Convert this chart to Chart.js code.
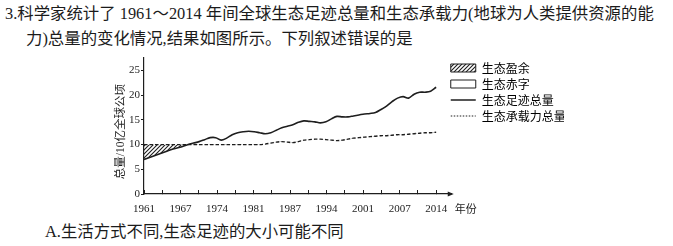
<!DOCTYPE html>
<html>
<head>
<meta charset="utf-8">
<script src="https://cdn.jsdelivr.net/npm/chart.js@4.4.1/dist/chart.umd.min.js"></script>
<style>
body { margin:0; background:#fff; width:673px; height:246px; overflow:hidden; position:relative;
       font-family:"Liberation Serif","Noto Sans CJK SC",serif; color:#1b1b1b; }
.q { position:absolute; font-size:16.4px; line-height:20px; white-space:nowrap; }
#l1 { left:5px; top:4px; }
#l2 { left:26px; top:29px; }
#l3 { left:45px; top:222px; }
#c { position:absolute; left:0; top:50px; }
</style>
</head>
<body>
<div class="q" id="l1">3.科学家统计了 1961～2014 年间全球生态足迹总量和生态承载力(地球为人类提供资源的能</div>
<div class="q" id="l2">力)总量的变化情况,结果如图所示。下列叙述错误的是</div>
<div class="q" id="l3">A.生活方式不同,生态足迹的大小可能不同</div>
<canvas id="c" width="673" height="174"></canvas>
<script>
var years = [1961,1962,1963,1964,1965,1966,1967,1968,1969,
    1970,1971,1972,1973,1974,1975,1976,1977,1978,1979,
    1980,1981,1982,1983,1984,1985,1986,1987,1988,1989,
    1990,1991,1992,1993,1994,1995,1996,1997,1998,1999,
    2000,2001,2002,2003,2004,2005,2006,2007,2008,2009,
    2010,2011,2012,2013,2014];
// 生态足迹总量
var footprint = [7.0,7.4,7.8,8.2,8.6,9.0,9.3,9.6,10.0,
    10.3,10.6,11.0,11.4,11.4,10.9,11.3,12.0,12.4,12.6,
    12.7,12.6,12.4,12.2,12.4,12.9,13.4,13.7,14.0,14.5,
    14.8,14.7,14.6,14.4,14.6,15.2,15.7,15.6,15.6,15.8,
    16.0,16.2,16.3,16.5,17.1,17.8,18.7,19.4,19.7,19.4,
    20.2,20.6,20.6,20.8,21.6];
// 生态承载力总量
var capacity = [10.0,10.0,10.0,10.0,10.0,10.0,10.0,10.0,10.0,
    10.0,10.0,10.0,10.0,10.0,10.0,10.0,10.0,10.0,10.0,
    10.0,10.0,10.0,10.1,10.3,10.5,10.6,10.5,10.4,10.6,
    10.9,11.0,11.1,11.1,11.0,10.9,10.8,10.9,11.1,11.3,
    11.4,11.5,11.6,11.7,11.8,11.8,11.9,12.0,12.0,12.1,
    12.2,12.3,12.4,12.4,12.5];
var xLabels = ["1961","1967","1974","1981","1987","1994","2001","2007","2014"];
var yTicks = [0,5,10,15,20,25];
var legendNames = ["生态盈余","生态赤字","生态足迹总量","生态承载力总量"];
var yTitle = "总量/10亿全球公顷";
var xUnit = "年份";

var ink = "#1e1e1e";
var serif = "'Liberation Serif', 'Noto Sans CJK SC', serif";
var cjk = "'Noto Sans CJK SC', sans-serif";

function makeHatch() {
    var c = document.createElement("canvas");
    c.width = 4; c.height = 4;
    var g = c.getContext("2d");
    g.strokeStyle = ink;
    g.lineWidth = 1.1;
    g.beginPath();
    g.moveTo(0, 4); g.lineTo(4, 0);
    g.moveTo(-1, 1); g.lineTo(1, -1);
    g.moveTo(3, 5); g.lineTo(5, 3);
    g.stroke();
    return g.createPattern(c, "repeat");
}
var hatch = makeHatch();

function points(vals) {
    return years.map(function (y, i) { return { x: y, y: vals[i] }; });
}

// arrow on the x axis, unit text, and a small nudge of the legend
var axisExtras = {
    id: "axisExtras",
    afterLayout: function (chart) {
        var lg = chart.legend;
        lg.left -= 5; lg.right -= 5;
        lg.top += 3; lg.bottom += 3;
    },
    afterDraw: function (chart) {
        var ctx = chart.ctx, a = chart.chartArea;
        ctx.save();
        ctx.fillStyle = ink;
        ctx.beginPath();
        ctx.moveTo(a.right + 2, a.bottom);
        ctx.lineTo(a.right - 4, a.bottom - 2.5);
        ctx.lineTo(a.right - 4, a.bottom + 2.5);
        ctx.closePath();
        ctx.fill();
        ctx.font = "11px " + cjk;
        ctx.textBaseline = "middle";
        ctx.fillText(xUnit, a.right + 3, a.bottom + 15);
        ctx.restore();
    }
};

new Chart(document.getElementById("c"), {
    type: "line",
    data: {
        datasets: [{
            label: legendNames[2],
            data: points(footprint),
            borderColor: ink,
            borderWidth: 1.6,
            pointRadius: 0,
            tension: 0.35,
            fill: { target: 1, above: "rgba(0,0,0,0)", below: hatch }
        }, {
            label: legendNames[3],
            data: points(capacity),
            borderColor: ink,
            borderWidth: 1.4,
            borderDash: [3.5, 2],
            pointRadius: 0,
            tension: 0.3,
            fill: false
        }]
    },
    options: {
        responsive: false,
        animation: false,
        layout: { padding: { left: 100, top: 5, right: 104, bottom: 0 } },
        scales: {
            x: {
                type: "linear",
                min: 1961,
                max: 2016.83,
                afterBuildTicks: function (s) {
                    var t = [], a = years[0], b = years[years.length - 1];
                    for (var k = 0; k <= 16; k++) t.push({ value: a + k * (b - a) / 16 });
                    s.ticks = t;
                },
                afterFit: function (s) { s.height = 30; },
                grid: { drawOnChartArea: false, tickLength: -4, color: ink },
                border: { color: ink, width: 1.2 },
                ticks: {
                    autoSkip: false, maxRotation: 0, padding: 12.4, color: ink,
                    font: { family: serif, size: 11 },
                    callback: function (v, i) { return i % 2 === 0 ? xLabels[i / 2] : ""; }
                }
            },
            y: {
                min: 0,
                max: 27.6,
                afterBuildTicks: function (s) {
                    s.ticks = yTicks.map(function (v) { return { value: v }; });
                },
                afterFit: function (s) { s.width = 44; },
                grid: { drawOnChartArea: false, tickLength: 3, color: ink },
                border: { color: ink, width: 1.2 },
                ticks: { padding: 1, color: ink, font: { family: serif, size: 11 } },
                title: {
                    display: true, text: yTitle + "\u3000", color: ink,
                    font: { family: serif, size: 11.5 },
                    padding: { top: 14, bottom: 0 }
                }
            }
        },
        plugins: {
            tooltip: { enabled: false },
            legend: {
                position: "right",
                align: "start",
                labels: {
                    usePointStyle: true,
                    pointStyleWidth: 25,
                    boxHeight: 8,
                    padding: 4,
                    color: ink,
                    font: { family: cjk, size: 12 },
                    generateLabels: function () {
                        return [
                            { text: legendNames[0], fillStyle: hatch, strokeStyle: ink, lineWidth: 1, pointStyle: "rect" },
                            { text: legendNames[1], fillStyle: "#fff", strokeStyle: ink, lineWidth: 1, pointStyle: "rect" },
                            { text: legendNames[2], fillStyle: "rgba(0,0,0,0)", strokeStyle: ink, lineWidth: 1.5, pointStyle: "line" },
                            { text: legendNames[3], fillStyle: "rgba(0,0,0,0)", strokeStyle: ink, lineWidth: 1.2, lineDash: [1.5, 1.5], pointStyle: "line" }
                        ];
                    }
                }
            }
        }
    },
    plugins: [axisExtras]
});
</script>
</body>
</html>
